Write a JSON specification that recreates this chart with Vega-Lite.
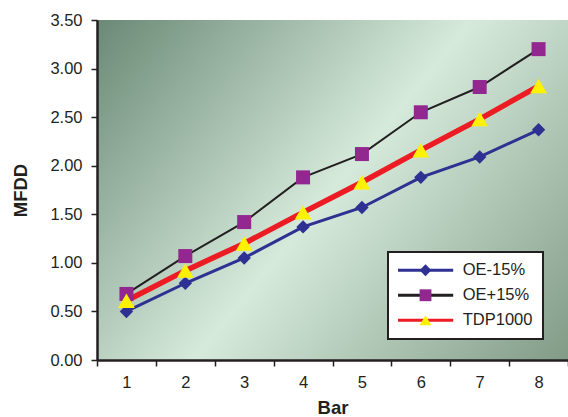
{
  "$schema": "https://vega.github.io/schema/vega-lite/v6.json",
  "width": 471,
  "height": 340,
  "autosize": {"type": "none"},
  "padding": {"left": 97, "top": 20, "right": 0, "bottom": 57},
  "background": "white",
  "data": {
    "values": [
      {"bar": 1, "series": "OE-15%", "mfdd": 0.50},
      {"bar": 2, "series": "OE-15%", "mfdd": 0.79},
      {"bar": 3, "series": "OE-15%", "mfdd": 1.05},
      {"bar": 4, "series": "OE-15%", "mfdd": 1.37},
      {"bar": 5, "series": "OE-15%", "mfdd": 1.57},
      {"bar": 6, "series": "OE-15%", "mfdd": 1.88},
      {"bar": 7, "series": "OE-15%", "mfdd": 2.09},
      {"bar": 8, "series": "OE-15%", "mfdd": 2.37},
      {"bar": 1, "series": "OE+15%", "mfdd": 0.68},
      {"bar": 2, "series": "OE+15%", "mfdd": 1.07},
      {"bar": 3, "series": "OE+15%", "mfdd": 1.42},
      {"bar": 4, "series": "OE+15%", "mfdd": 1.88},
      {"bar": 5, "series": "OE+15%", "mfdd": 2.12},
      {"bar": 6, "series": "OE+15%", "mfdd": 2.55},
      {"bar": 7, "series": "OE+15%", "mfdd": 2.81},
      {"bar": 8, "series": "OE+15%", "mfdd": 3.20},
      {"bar": 1, "series": "TDP1000", "mfdd": 0.61},
      {"bar": 2, "series": "TDP1000", "mfdd": 0.92},
      {"bar": 3, "series": "TDP1000", "mfdd": 1.20},
      {"bar": 4, "series": "TDP1000", "mfdd": 1.52},
      {"bar": 5, "series": "TDP1000", "mfdd": 1.83},
      {"bar": 6, "series": "TDP1000", "mfdd": 2.16},
      {"bar": 7, "series": "TDP1000", "mfdd": 2.48},
      {"bar": 8, "series": "TDP1000", "mfdd": 2.82}
    ]
  },
  "encoding": {
    "x": {
      "field": "bar",
      "type": "ordinal",
      "scale": {"type": "band", "paddingInner": 0, "paddingOuter": 0},
      "axis": {
        "title": "Bar",
        "labelAngle": 0,
        "tickBand": "extent",
        "labelPadding": 8,
        "titlePadding": 8
      }
    },
    "y": {
      "field": "mfdd",
      "type": "quantitative",
      "scale": {"domain": [0, 3.5], "nice": false, "zero": true},
      "axis": {
        "title": "MFDD",
        "values": [0, 0.5, 1, 1.5, 2, 2.5, 3, 3.5],
        "format": ".2f",
        "grid": false,
        "labelPadding": 9,
        "titlePadding": 19
      }
    }
  },
  "layer": [
    {
      "mark": {"type": "line"},
      "encoding": {
        "stroke": {
          "field": "series",
          "type": "nominal",
          "sort": ["OE-15%", "OE+15%", "TDP1000"],
          "scale": {"range": ["#2e3192", "#231f20", "#ed1c24"]},
          "legend": {
            "title": null, "orient": "none", "legendX": 291, "legendY": 232,
            "symbolType": "M-5.52,0H5.52", "symbolSize": 100, "symbolOffset": 19.35,
            "symbolStrokeWidth": 3,
            "rowPadding": 8, "padding": 10, "labelOffset": 28.85, "labelFontSize": 16.5,
            "fillColor": "white", "strokeColor": "#231f20", "zindex": 1
          }
        },
        "strokeWidth": {
          "condition": [
            {"test": "datum.series === 'TDP1000'", "value": 5.5},
            {"test": "datum.series === 'OE+15%'", "value": 2}
          ],
          "value": 3
        }
      }
    },
    {
      "mark": {"type": "point", "filled": true, "opacity": 1, "strokeWidth": 0},
      "encoding": {
        "fill": {
          "field": "series",
          "type": "nominal",
          "sort": ["OE-15%", "OE+15%", "TDP1000"],
          "scale": {"range": ["#2e3192", "#92278f", "#fff200"]},
          "legend": {
            "title": null, "orient": "none", "legendX": 310.25, "legendY": 232,
            "symbolSize": 140, "rowPadding": 8, "padding": 10,
            "labelFontSize": 16.5, "labelExpr": "''", "symbolStrokeWidth": 0, "zindex": 2,
            "symbolType": {"expr": "datum.value === 'OE-15%' ? 'diamond' : datum.value === 'OE+15%' ? 'square' : 'triangle-up'"}
          }
        },
        "shape": {
          "condition": [
            {"test": "datum.series === 'TDP1000'", "value": "triangle-up"},
            {"test": "datum.series === 'OE+15%'", "value": "square"}
          ],
          "value": "diamond"
        },
        "size": {
          "condition": [
            {"test": "datum.series === 'TDP1000'", "value": 280},
            {"test": "datum.series === 'OE+15%'", "value": 196}
          ],
          "value": 180
        }
      }
    }
  ],
  "config": {
    "font": "Liberation Sans",
    "view": {
      "stroke": null,
      "fill": {
        "gradient": "linear",
        "x1": -0.09, "y1": 0.15, "x2": 1.09, "y2": 0.85,
        "stops": [
          {"offset": 0, "color": "#6a8975"},
          {"offset": 0.5, "color": "#d6eadb"},
          {"offset": 1, "color": "#819b87"}
        ]
      }
    },
    "axis": {
      "labelFont": "Liberation Sans",
      "labelFontSize": 16.5,
      "labelColor": "#231f20",
      "titleFont": "Liberation Sans",
      "titleFontSize": 18.5,
      "titleFontWeight": "bold",
      "titleColor": "#231f20",
      "domainColor": "#231f20",
      "domainWidth": 2.5,
      "tickColor": "#231f20",
      "tickWidth": 1.5,
      "tickSize": 6
    },
    "legend": {
      "labelFont": "Liberation Sans",
      "labelColor": "#231f20",
      "strokeWidth": 2
    }
  }
}
